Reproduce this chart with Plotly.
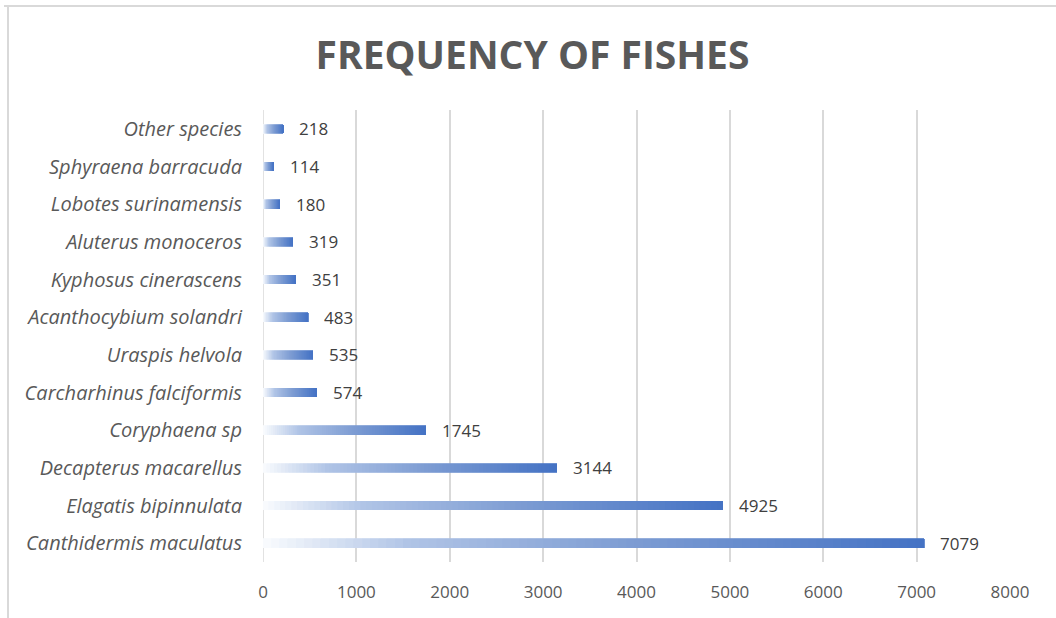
import plotly.graph_objects as go

# Data (top to bottom as shown)
species = [
    "Other species", "Sphyraena barracuda", "Lobotes surinamensis",
    "Aluterus monoceros", "Kyphosus cinerascens", "Acanthocybium solandri",
    "Uraspis helvola", "Carcharhinus falciformis", "Coryphaena sp",
    "Decapterus macarellus", "Elagatis bipinnulata", "Canthidermis maculatus",
]
counts = [218, 114, 180, 319, 351, 483, 535, 574, 1745, 3144, 4925, 7079]
x_ticks = [0, 1000, 2000, 3000, 4000, 5000, 6000, 7000, 8000]
title_text = "FREQUENCY OF FISHES"

# Gradient colour stops (position along bar, rgb)
stops = [(0.0, (250, 252, 254)), (0.22, (176, 196, 230)), (0.55, (126, 157, 211)), (1.0, (68, 114, 196))]


def grad_color(t):
    for (t0, c0), (t1, c1) in zip(stops[:-1], stops[1:]):
        if t <= t1:
            f = (t - t0) / (t1 - t0) if t1 > t0 else 0
            c = [round(a + (b - a) * f) for a, b in zip(c0, c1)]
            return f"rgb({c[0]},{c[1]},{c[2]})"
    c = stops[-1][1]
    return f"rgb({c[0]},{c[1]},{c[2]})"


N = 80
fig = go.Figure()
# stacked segments, each outlined in its own colour to hide seams
for i in range(N):
    col = grad_color((i + 0.5) / N)
    fig.add_trace(go.Bar(
        y=species,
        x=[v / N for v in counts],
        orientation="h",
        width=0.23,
        marker=dict(color=col, line=dict(width=0.8, color=col)),
        hoverinfo="skip",
        showlegend=False,
    ))

for s, v in zip(species, counts):
    fig.add_annotation(
        x=v, y=s, text=str(v), showarrow=False, xanchor="left",
        xshift=14, font=dict(family="Open Sans", size=17, color="#404040"),
    )

L, R, T, B = 263, 46, 110, 56
W, H = 1056, 618
pw, ph = W - L - R, H - T - B


def px_x(p):
    return (p - L) / pw


def px_y(p):
    return (H - B - p) / ph


fig.add_shape(type="line", xref="paper", yref="paper",
              x0=px_x(4), x1=px_x(1056), y0=px_y(6), y1=px_y(6),
              line=dict(color="#D9D9D9", width=2))
fig.add_shape(type="line", xref="paper", yref="paper",
              x0=px_x(8), x1=px_x(8), y0=px_y(6), y1=px_y(618),
              line=dict(color="#D9D9D9", width=2))

fig.update_layout(
    width=W, height=H,
    barmode="stack",
    plot_bgcolor="white", paper_bgcolor="white",
    margin=dict(l=L, r=R, t=T, b=B),
    title=dict(text=f"<b>{title_text}</b>", x=(313 + 752) / 2 / W, xanchor="center",
               y=1 - 55 / H, yanchor="middle",
               font=dict(family="Open Sans", size=39, color="#595959")),
    xaxis=dict(range=[0, 8000], tickvals=x_ticks, showgrid=True,
               gridcolor="#D9D9D9", gridwidth=1.5, zeroline=False,
               showline=False, ticks="", ticklabelstandoff=18,
               tickfont=dict(family="Open Sans", size=17, color="#595959")),
    yaxis=dict(autorange="reversed", showgrid=False, zeroline=False,
               showline=False, ticks="", ticklabelstandoff=20,
               tickfont=dict(family="Open Sans", size=20, color="#595959",
                             style="italic")),
)
fig.add_vline(x=0, line=dict(color="#D9D9D9", width=1.5), layer="below")

fig.write_html("out.html")
